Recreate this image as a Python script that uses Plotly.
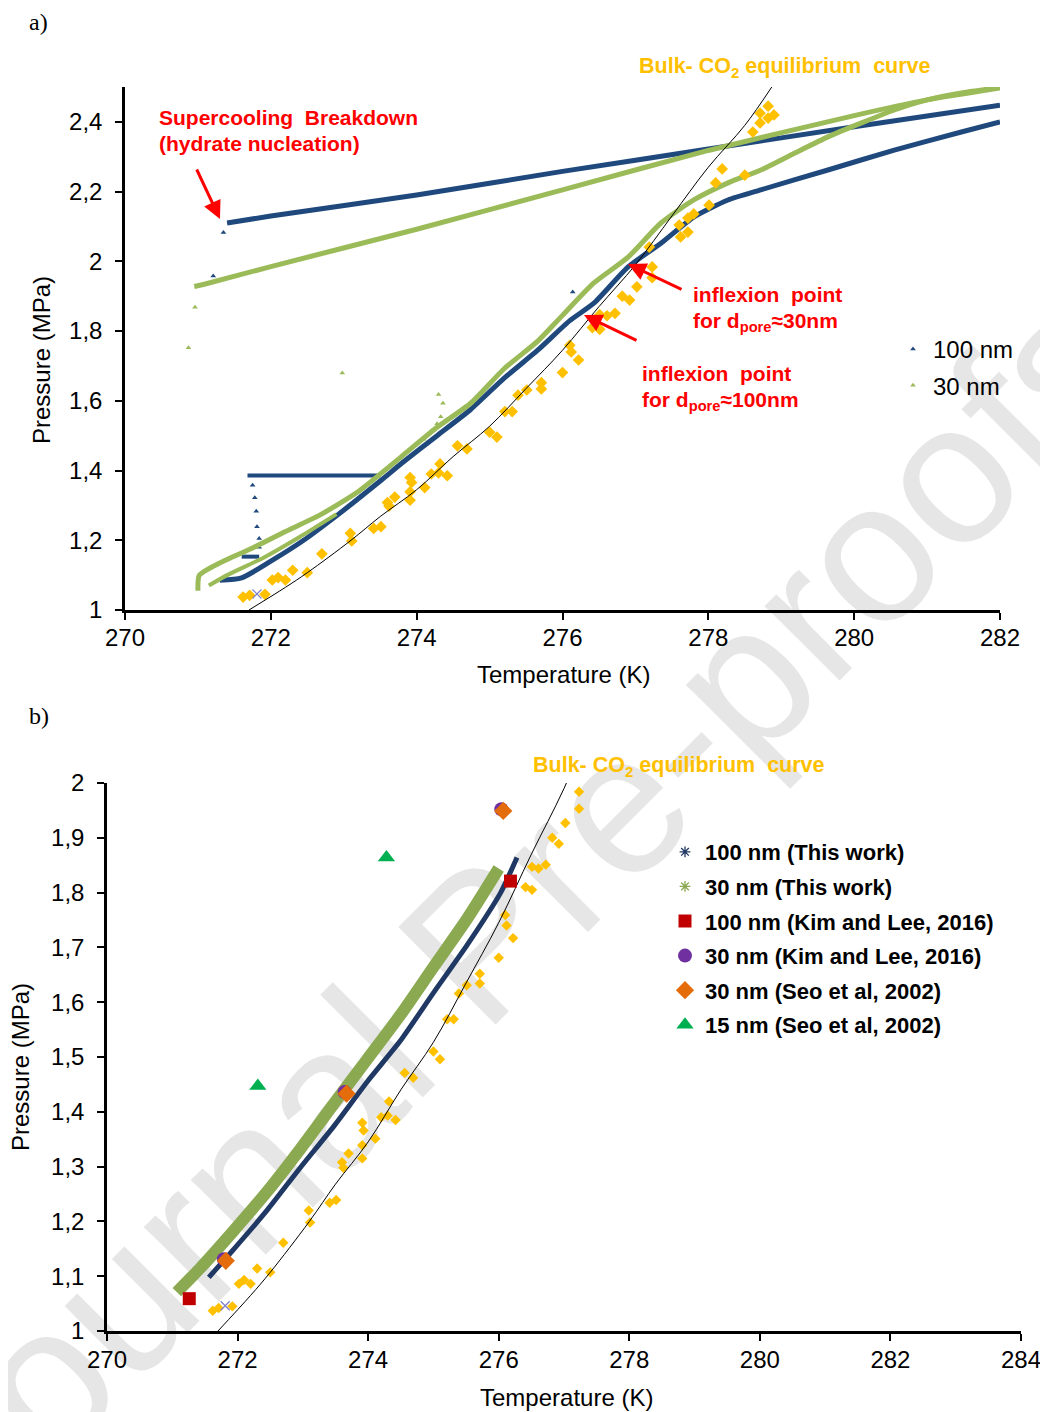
import plotly.graph_objects as go

# page is offset by the 8px body margin, so the figure is drawn 8px smaller
W, H = 1040, 1404
OFF = 8

# ---------------- panel a) : pressure / temperature during cooling & heating ----------------
# 100 nm silica gel (dark blue)
a100_cool_T = [271.40, 272.0, 274.0, 276.0, 278.0, 280.0, 282.0]
a100_cool_P = [2.110, 2.130, 2.190, 2.258, 2.322, 2.386, 2.448]
a100_iso_T = [271.35, 271.21, 276.14]
a100_iso_P = [2.083, 1.958, 1.912]
a100_plat_T = [271.68, 272.50, 273.50]
a100_plat_P = [1.386, 1.385, 1.386]
a100_drop_T = [271.75, 271.78, 271.80, 271.81, 271.84, 271.84]
a100_drop_P = [1.358, 1.322, 1.283, 1.239, 1.205, 1.180]
a100_blob_T = [271.60, 271.84]
a100_blob_P = [1.153, 1.153]
a100_heat_T = [271.30, 271.60, 272.00, 272.45, 272.90, 273.50, 273.82, 274.28, 274.74, 275.20,
               275.66, 276.10, 276.43, 276.90, 277.35, 277.80, 278.27, 278.72, 279.64, 280.55,
               281.47, 282.00]
a100_heat_P = [1.085, 1.092, 1.140, 1.200, 1.270, 1.370, 1.425, 1.500, 1.575, 1.665,
               1.745, 1.830, 1.880, 1.984, 2.052, 2.127, 2.176, 2.205, 2.262, 2.319,
               2.371, 2.400]

# 30 nm silica gel (light green)
a30_cool_T = [270.95, 271.10, 272.0, 274.0, 276.0, 278.0, 280.0, 281.0, 282.0]
a30_cool_P = [1.928, 1.935, 1.985, 2.092, 2.205, 2.318, 2.418, 2.463, 2.497]
a30_iso_T = [270.96, 270.87, 272.98, 274.10, 274.20, 274.28, 274.33, 274.36, 274.30]
a30_iso_P = [1.868, 1.752, 1.680, 1.490, 1.514, 1.534, 1.554, 1.593, 1.618]
a30_loop_T = [271.15, 271.40, 271.90, 272.40, 272.90]
a30_loop_P = [1.070, 1.100, 1.150, 1.210, 1.275]
a30_heat_T = [271.00, 271.02, 271.30, 271.75, 272.20, 272.67, 273.20, 273.82, 274.28, 274.74,
              275.20, 275.66, 276.00, 276.43, 276.90, 277.35, 277.80, 278.27, 278.72, 279.18,
              279.64, 280.10, 280.55, 281.00, 281.47, 281.95]
a30_heat_P = [1.055, 1.100, 1.135, 1.178, 1.225, 1.272, 1.340, 1.445, 1.524, 1.593,
              1.692, 1.771, 1.845, 1.938, 2.012, 2.110, 2.176, 2.225, 2.262, 2.310,
              2.357, 2.397, 2.434, 2.463, 2.483, 2.497]

# Bulk CO2 hydrate equilibrium data (yellow diamonds) - shared by both panels
bulk_T = [271.62, 271.71, 271.92, 272.02, 272.10, 272.20, 272.30, 272.50, 272.70, 273.09,
          273.11, 273.41, 273.51, 273.60, 273.62, 273.70, 273.91, 273.93, 273.91, 273.91,
          274.11, 274.20, 274.32, 274.30, 274.42, 274.56, 274.69, 275.00, 275.10, 275.21,
          275.31, 275.39, 275.51, 275.71, 275.71, 276.00, 276.12, 276.10, 276.22, 276.41,
          276.51, 276.51, 276.61, 276.72, 276.82, 276.92, 277.02, 277.23, 277.23, 277.19,
          277.60, 277.62, 277.72, 277.72, 277.80, 278.01, 278.10, 278.19, 278.50, 278.61,
          278.71, 278.71, 278.82, 278.82, 278.90]
bulk_P = [1.037, 1.042, 1.045, 1.086, 1.093, 1.086, 1.114, 1.107, 1.161, 1.220,
          1.198, 1.234, 1.239, 1.308, 1.298, 1.324, 1.380, 1.366, 1.339, 1.315,
          1.351, 1.390, 1.419, 1.393, 1.385, 1.471, 1.462, 1.510, 1.496, 1.569,
          1.569, 1.616, 1.631, 1.652, 1.634, 1.681, 1.740, 1.759, 1.717, 1.810,
          1.805, 1.847, 1.844, 1.851, 1.900, 1.889, 1.927, 1.953, 1.984, 2.041,
          2.104, 2.070, 2.084, 2.124, 2.136, 2.161, 2.225, 2.265, 2.247, 2.371,
          2.397, 2.425, 2.411, 2.445, 2.420]
bulkx_T = [271.81]
bulkx_P = [1.046]

# Bulk equilibrium curve (thin black line)
eq_T = [271.70, 272.20, 272.50, 273.10, 273.50, 274.00, 274.50, 275.00, 275.50, 276.00,
        276.50, 277.00, 277.50, 278.00, 278.50, 278.87]
eq_P = [1.000, 1.065, 1.107, 1.200, 1.268, 1.345, 1.440, 1.527, 1.635, 1.745,
        1.870, 1.990, 2.130, 2.270, 2.390, 2.500]

# ---------------- panel b) : dissociation curves vs literature ----------------
b100_T = [271.56, 271.94, 272.45, 272.96, 273.47, 273.98, 274.49, 275.00, 275.52, 276.03, 276.28]
b100_P = [1.098, 1.149, 1.220, 1.298, 1.373, 1.454, 1.529, 1.617, 1.705, 1.800, 1.864]
b30_T = [271.07, 271.43, 271.94, 272.45, 272.96, 273.47, 273.98, 274.49, 275.00, 275.52, 276.00]
b30_P = [1.071, 1.115, 1.183, 1.254, 1.332, 1.414, 1.495, 1.576, 1.664, 1.753, 1.844]
kim100_T = [271.26, 276.18]
kim100_P = [1.059, 1.821]
kim30_T = [271.79, 273.64, 276.04]
kim30_P = [1.131, 1.436, 1.952]
seo30_T = [271.82, 273.67, 276.07]
seo30_P = [1.128, 1.433, 1.949]
seo15_T = [272.31, 274.28]
seo15_P = [1.447, 1.864]

# tick labels (comma decimal)
a_xticks = [270, 272, 274, 276, 278, 280, 282]
a_yticks = [1.0, 1.2, 1.4, 1.6, 1.8, 2.0, 2.2, 2.4]
a_ytext = ["1", "1,2", "1,4", "1,6", "1,8", "2", "2,2", "2,4"]
b_xticks = [270, 272, 274, 276, 278, 280, 282, 284]
b_yticks = [1.0, 1.1, 1.2, 1.3, 1.4, 1.5, 1.6, 1.7, 1.8, 1.9, 2.0]
b_ytext = ["1", "1,1", "1,2", "1,3", "1,4", "1,5", "1,6", "1,7", "1,8", "1,9", "2"]

# colours
BLUE = "#1F497D"
GREEN = "#9BBB59"
BLUE_B = "#1F3864"
GREEN_B = "#8BA951"
YELLOW = "#FFC000"
RED = "#FF0000"
FONT = "Liberation Sans, Arial, sans-serif"


def px(x):
    return (x - OFF) / W


def py(y):
    return 1 - (y - OFF) / H


fig = go.Figure()


def band(x, y, color, width, xa="x", ya="y", shape="spline"):
    fig.add_trace(go.Scatter(x=x, y=y, mode="lines", xaxis=xa, yaxis=ya, showlegend=False,
                             line=dict(color=color, width=width, shape=shape, smoothing=0.6),
                             hoverinfo="skip"))


# ---- panel a traces ----
band(a100_cool_T, a100_cool_P, BLUE, 5)
band(a100_plat_T, a100_plat_P, BLUE, 4, shape="linear")
band(a100_blob_T, a100_blob_P, BLUE, 4, shape="linear")
band(a100_heat_T, a100_heat_P, BLUE, 5)
fig.add_trace(go.Scatter(x=a100_drop_T, y=a100_drop_P, mode="markers", showlegend=False,
                         marker=dict(symbol="triangle-up", size=5, color=BLUE)))
fig.add_trace(go.Scatter(x=a100_iso_T, y=a100_iso_P, mode="markers", name="100 nm",
                         legend="legend", legendgroup="a1",
                         marker=dict(symbol="triangle-up", size=5, color=BLUE)))
band(a30_cool_T, a30_cool_P, GREEN, 5)
band(a30_loop_T, a30_loop_P, GREEN, 4)
band(a30_heat_T, a30_heat_P, GREEN, 5)
fig.add_trace(go.Scatter(x=a30_iso_T, y=a30_iso_P, mode="markers", name="30 nm",
                         legend="legend", legendgroup="a2",
                         marker=dict(symbol="triangle-up", size=5, color=GREEN)))
fig.add_trace(go.Scatter(x=bulk_T, y=bulk_P, mode="markers", showlegend=False,
                         marker=dict(symbol="diamond", size=9, color=YELLOW)))
fig.add_trace(go.Scatter(x=bulkx_T, y=bulkx_P, mode="markers", showlegend=False,
                         marker=dict(symbol="x-thin-open", size=9, color="#7F7FC8",
                                     line=dict(color="#7F7FC8", width=1.2))))
fig.add_trace(go.Scatter(x=eq_T, y=eq_P, mode="lines", showlegend=False,
                         line=dict(color="black", width=1, shape="spline")))

# ---- panel b traces ----
band(b100_T, b100_P, BLUE_B, 5, "x2", "y2")
band(b30_T, b30_P, GREEN_B, 12, "x2", "y2")
fig.add_trace(go.Scatter(x=bulk_T, y=bulk_P, mode="markers", showlegend=False, xaxis="x2", yaxis="y2",
                         marker=dict(symbol="diamond", size=8, color=YELLOW)))
fig.add_trace(go.Scatter(x=bulkx_T, y=bulkx_P, mode="markers", showlegend=False, xaxis="x2", yaxis="y2",
                         marker=dict(symbol="x-thin-open", size=9, color="#7F7FC8",
                                     line=dict(color="#7F7FC8", width=1.2))))
fig.add_trace(go.Scatter(x=eq_T, y=eq_P, mode="lines", showlegend=False, xaxis="x2", yaxis="y2",
                         line=dict(color="black", width=1, shape="spline")))

fig.add_trace(go.Scatter(x=[None], y=[None], mode="markers", name="100 nm (This work)",
                         xaxis="x2", yaxis="y2", legend="legend2", legendgroup="b1",
                         marker=dict(symbol="asterisk-open", size=9, color=BLUE_B,
                                     line=dict(color=BLUE_B, width=1.3))))
fig.add_trace(go.Scatter(x=[None], y=[None], mode="markers", name="30 nm (This work)",
                         xaxis="x2", yaxis="y2", legend="legend2", legendgroup="b2",
                         marker=dict(symbol="asterisk-open", size=9, color=GREEN_B,
                                     line=dict(color=GREEN_B, width=1.3))))
fig.add_trace(go.Scatter(x=kim100_T, y=kim100_P, mode="markers", name="100 nm (Kim and Lee, 2016)",
                         xaxis="x2", yaxis="y2", legend="legend2", legendgroup="b3",
                         marker=dict(symbol="square", size=13, color="#C00000")))
fig.add_trace(go.Scatter(x=kim30_T, y=kim30_P, mode="markers", name="30 nm (Kim and Lee, 2016)",
                         xaxis="x2", yaxis="y2", legend="legend2", legendgroup="b4",
                         marker=dict(symbol="circle", size=14, color="#7030A0")))
fig.add_trace(go.Scatter(x=seo30_T, y=seo30_P, mode="markers", name="30 nm (Seo et al, 2002)",
                         xaxis="x2", yaxis="y2", legend="legend2", legendgroup="b5",
                         marker=dict(symbol="diamond", size=14, color="#E46C0A")))
fig.add_trace(go.Scatter(x=seo15_T, y=seo15_P, mode="markers", name="15 nm (Seo et al, 2002)",
                         xaxis="x2", yaxis="y2", legend="legend2", legendgroup="b6",
                         marker=dict(symbol="triangle-up", size=15, color="#00B050")))

axis_common = dict(showgrid=False, zeroline=False, showline=True, linecolor="black", linewidth=2.5,
                   ticks="outside", ticklen=7, tickwidth=2, tickcolor="black", automargin=False,
                   tickfont=dict(family=FONT, size=24, color="black"), fixedrange=True)

fig.update_layout(
    width=W, height=H, margin=dict(l=0, r=0, t=0, b=0, pad=0, autoexpand=False),
    paper_bgcolor="white", plot_bgcolor="rgba(0,0,0,0)",
    font=dict(family=FONT, color="black"),
    xaxis=dict(domain=[px(125), px(1000)], anchor="y", range=[270, 282],
               tickvals=a_xticks, ticklabelstandoff=-3, **axis_common),
    yaxis=dict(domain=[py(610), py(87)], anchor="x", range=[1, 2.5],
               tickvals=a_yticks, ticktext=a_ytext, ticklabelstandoff=8, **axis_common),
    xaxis2=dict(domain=[px(107), px(1021)], anchor="y2", range=[270, 284],
                tickvals=b_xticks, ticklabelstandoff=-2, **axis_common),
    yaxis2=dict(domain=[py(1331), py(783)], anchor="x2", range=[1, 2],
                tickvals=b_yticks, ticktext=b_ytext, ticklabelstandoff=8, **axis_common),
    legend=dict(x=px(893), y=py(327), xanchor="left", yanchor="top",
                bgcolor="rgba(0,0,0,0)", font=dict(family=FONT, size=24, color="black"),
                traceorder="grouped", tracegroupgap=2),
    legend2=dict(x=px(665), y=py(831), xanchor="left", yanchor="top",
                 bgcolor="rgba(0,0,0,0)", font=dict(family=FONT, size=22, color="black", weight="bold"),
                 traceorder="grouped", tracegroupgap=3),
)

# watermark (below the data)
fig.add_shape(type="line", xref="paper", yref="paper",
              x0=px(100), y0=py(1295), x1=px(900), y1=py(495),
              line=dict(color="rgba(0,0,0,0)", width=0), layer="below",
              label=dict(text="Journal Pre-proofs", textangle=-45, textposition="middle",
                         yanchor="middle", padding=0,
                         font=dict(family=FONT, size=200, color="#E6E6E6")))


def note(text, x, y, size=21, color=RED, bold=True, family=FONT, xanchor="left", angle=0):
    fig.add_annotation(text=text, xref="paper", yref="paper", x=px(x), y=py(y),
                       xanchor=xanchor, yanchor="middle", showarrow=False, textangle=angle,
                       font=dict(family=family, size=size, color=color,
                                 weight="bold" if bold else "normal"))


def arrow(x_head, y_head, x_tail, y_tail):
    fig.add_annotation(text="", xref="paper", yref="paper", x=px(x_head), y=py(y_head),
                       axref="pixel", ayref="pixel", ax=x_tail - x_head, ay=y_tail - y_head,
                       showarrow=True, arrowhead=2, arrowsize=1.2, arrowwidth=3, arrowcolor=RED)


NB = "\u00a0"
note("a)", 27, 22, size=24, color="black", bold=False, family="Liberation Serif, Times New Roman, serif")
note("b)", 27, 716, size=24, color="black", bold=False, family="Liberation Serif, Times New Roman, serif")
note("Supercooling" + NB + " Breakdown", 157, 118)
note("(hydrate nucleation)", 157, 144)
note("Bulk- CO<sub>2</sub> equilibrium" + NB + " curve", 637, 67, size=21.5, color=YELLOW)
note("Bulk- CO<sub>2</sub> equilibrium" + NB + " curve", 531, 766, size=21.5, color=YELLOW)
note("inflexion" + NB + " point", 691, 295)
note("for d<sub>pore</sub>≈30nm", 691, 322)
note("inflexion" + NB + " point", 640, 374)
note("for d<sub>pore</sub>≈100nm", 640, 401)
arrow(220, 219, 196, 168)
arrow(628, 264, 683, 290)
arrow(584, 315, 638, 341)

note("Temperature (K)", 563, 674, size=24, color="black", bold=False, xanchor="center")
note("Temperature (K)", 566, 1397, size=24, color="black", bold=False, xanchor="center")
note("Pressure (MPa)", 41, 360, size=24, color="black", bold=False, xanchor="center", angle=-90)
note("Pressure (MPa)", 20, 1067, size=24, color="black", bold=False, xanchor="center", angle=-90)

fig.write_html("out.html")
